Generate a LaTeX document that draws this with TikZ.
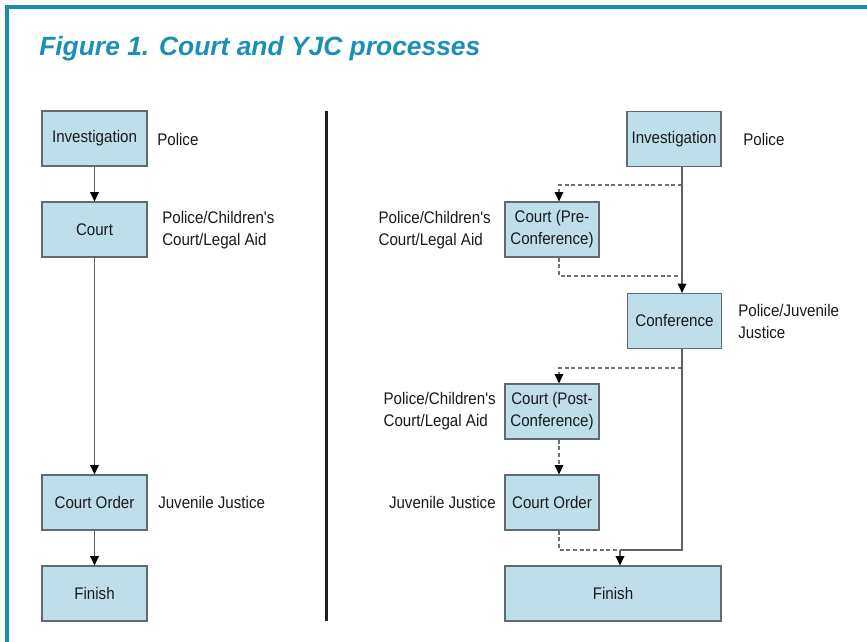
\documentclass[tikz,border=0pt]{standalone}
\usepackage{fontspec}
\setmainfont{Liberation Sans}
\newfontfamily\lblfont[FakeStretch=0.9]{Liberation Sans}
\usetikzlibrary{arrows.meta,calc}
\definecolor{framecol}{HTML}{1A8BB2}
\definecolor{titlecol}{HTML}{1B90B6}
\definecolor{boxfill}{HTML}{BEDFEA}
\definecolor{boxdraw}{HTML}{5F6B70}
\definecolor{linecol}{HTML}{606060}
\definecolor{dashcol}{HTML}{707070}
\begin{document}
\begin{tikzpicture}[x=0.75pt,y=-0.75pt,
  every node/.style={font=\lblfont\fontsize{12.6pt}{16.5pt}\selectfont, text=black!90},
  box/.style={draw=boxdraw,fill=boxfill,line width=0.9pt,inner sep=0pt,align=center,minimum height=41.25pt},
  wbox/.style={box,minimum width=78.75pt},
  nbox/.style={box,minimum width=70.5pt},
  lbl/.style={align=left,inner sep=0pt},
  tip/.style={-{Triangle[length=7pt,width=6.5pt,color=black,fill=black]}},
  sline/.style={draw=linecol,line width=1pt},
  dline/.style={draw=dashcol,line width=0.8pt,dash pattern=on 3pt off 2pt}]
\useasboundingbox (0,0) rectangle (867,642);
% frame
\draw[framecol,line width=2.4pt] (7,642) -- (7,7) -- (867,7);
% title
\node[anchor=base west,inner sep=0pt,text=titlecol,font=\fontsize{19.8pt}{22pt}\selectfont\bfseries\itshape] (title) at (39,56) {Figure 1. Court and YJC processes};
% divider
\draw[black!88,line width=2.25pt] (326,111) -- (326,621);

% left column
\node[wbox] (inv1) at (94.5,138.5) {Investigation};
\node[wbox] (court1) at (94.5,229.5) {Court};
\node[wbox] (order1) at (94.5,502.5) {Court Order};
\node[wbox] (fin1) at (94.5,593.5) {Finish};
\node[lbl,anchor=west] (l1) at (157,139) {Police};
\node[lbl,anchor=west] (l2) at (162,230) {Police/Children's\\Court/Legal Aid};
\node[lbl,anchor=west] (l3) at (158,502) {Juvenile Justice};
\draw[sline,tip] (inv1) -- (court1);
\draw[sline,tip] (court1) -- (order1);
\draw[sline,tip] (order1) -- (fin1);

% right column
\node[nbox] (inv2) at (674,139) {Investigation};
\node[nbox] (cpre) at (552,229.5) {Court (Pre-\\Conference)};
\node[nbox] (conf) at (674.5,321) {Conference};
\node[nbox] (cpost) at (552,411.5) {Court (Post-\\Conference)};
\node[nbox] (order2) at (552,502.5) {Court Order};
\node[box,minimum width=162pt] (fin2) at (613,593.5) {Finish};
\node[lbl,anchor=west] (r1) at (743,139) {Police};
\node[lbl,anchor=east] (r2) at (491,230) {Police/Children's\\Court/Legal Aid};
\node[lbl,anchor=west] (r3) at (738,321) {Police/Juvenile\\Justice};
\node[lbl,anchor=east] (r4) at (496,411.5) {Police/Children's\\Court/Legal Aid};
\node[lbl,anchor=east] (r5) at (496,502.5) {Juvenile Justice};

\coordinate (mx) at (682,0);
\coordinate (px) at (559,0);
\coordinate (j1) at (682,185);
\coordinate (j2) at (682,276);
\coordinate (j3) at (682,368);
\coordinate (j4) at (620,550);

\draw[dline,tip] (j1) -| (cpre.north -| px);
\draw[dline] (cpre.south -| px) |- (j2);
\draw[sline,tip] (inv2.south -| mx) -- (conf.north -| mx);
\draw[dline,tip] (j3) -| (cpost.north -| px);
\draw[dline,tip] (cpost.south -| px) -- (order2.north -| px);
\draw[dline] (order2.south -| px) |- (j4);
\draw[sline] (conf.south -| mx) |- (j4);
\draw[sline,tip] (j4) -- (fin2.north -| j4);
\end{tikzpicture}
\end{document}
